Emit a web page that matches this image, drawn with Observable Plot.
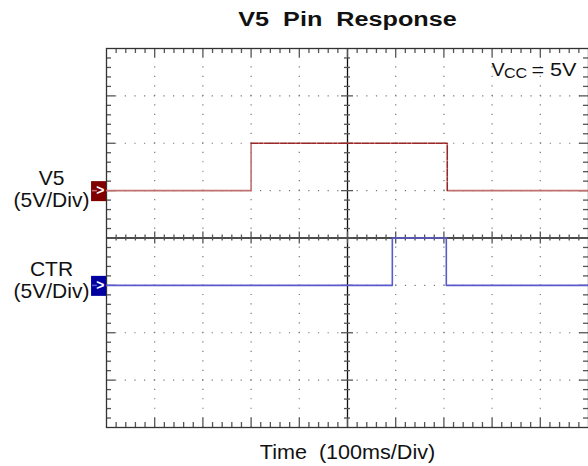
<!DOCTYPE html>
<html>
<head>
<meta charset="utf-8">
<script src="https://cdn.jsdelivr.net/npm/d3@7"></script>
<script src="https://cdn.jsdelivr.net/npm/@observablehq/plot@0.6"></script>
<style>
  html, body { margin: 0; padding: 0; background: #fff; }
  svg { display: block; }
</style>
</head>
<body>
<div id="chart"></div>
<script>
// ---- data (time in ms, 100 ms/div; amplitude in V, 5 V/div) ----
const titleText = "V5  Pin  Response";
const xLabel = "Time  (100ms/Div)";
const timeDomain = [0, 1000];
const voltDomain = [-20, 20];

const channelNames = ["V5", "CTR"];
const channelScales = ["(5V/Div)", "(5V/Div)"];
const channelOffsets = [5, -5];          // ground marker positions (V on screen)
const channelFills = ["#800000", "#0000a0"];
const channelStrokes = ["#c07070", "#5a5ad0"];

const v5Times = [0, 300, 707, 1000];
const v5Levels = [0, 5, 0, 0];
const ctrTimes = [0, 593, 705, 1000];
const ctrLevels = [0, 5, 0, 0];

const vccLabel = ["V", "CC", "= 5V"];

// ---- tables built from the arrays ----
const v5 = v5Times.map((t, i) => ({t, v: v5Levels[i] + channelOffsets[0]}));
const ctr = ctrTimes.map((t, i) => ({t, v: ctrLevels[i] + channelOffsets[1]}));
const channels = channelNames.map((n, i) => ({
  label: n + "\n" + channelScales[i], level: channelOffsets[i], fill: channelFills[i], stroke: channelStrokes[i]
}));

const xMajor = d3.range(100, 1000, 100).filter(d => d !== 500);
const yMajor = d3.range(-15, 20, 5).filter(d => d !== 0);
const xTicks = d3.range(20, 1000, 20);
const yTicks = d3.range(-19, 20, 1);
const isXMajor = d => d % 100 === 0;
const isYMajor = d => d % 5 === 0;

// pixel helpers for tick lengths (converted to data units)
const W = 588, H = 466, mL = 106, mR = 0, mT = 48, mB = 39;
const pxX = 1000 / (W - mL - mR);
const pxY = 40 / (H - mT - mB);

const tickColor = "#555";
const font = "Liberation Sans, Arial, Helvetica, sans-serif";

const chart = Plot.plot({
  width: W, height: H,
  marginLeft: mL, marginRight: mR, marginTop: mT, marginBottom: mB,
  x: {domain: timeDomain, axis: null},
  y: {domain: voltDomain, axis: null},
  style: {fontFamily: font, background: "#fff", overflow: "visible"},
  marks: [
    // dotted grid
    Plot.ruleX(xMajor, {stroke: "#777", strokeWidth: 1.2, strokeDasharray: `1.2 ${(9.48 - 1.2).toFixed(2)}`, strokeDashoffset: 0.6}),
    Plot.ruleY(yMajor, {stroke: "#777", strokeWidth: 1.2, strokeDasharray: `1.2 ${(9.66 - 1.2).toFixed(2)}`, strokeDashoffset: 0.6}),
    // center axes
    Plot.ruleY([0], {stroke: "#111", strokeWidth: 1.3}),
    Plot.ruleX([500], {stroke: "#111", strokeWidth: 1.3}),
    Plot.ruleX(xTicks, {x: d => d, y1: d => (isXMajor(d) ? -6 : -3) * pxY, y2: d => (isXMajor(d) ? 6 : 3) * pxY, stroke: tickColor, strokeWidth: 1.3}),
    Plot.ruleY(yTicks, {y: d => d, x1: d => 500 - (isYMajor(d) ? 6 : 3) * pxX, x2: d => 500 + (isYMajor(d) ? 6 : 3) * pxX, stroke: tickColor, strokeWidth: 1.3}),
    // border ticks
    Plot.ruleX(xTicks, {x: d => d, y1: 20, y2: d => 20 - (isXMajor(d) ? 9 : 5) * pxY, stroke: tickColor, strokeWidth: 1.3}),
    Plot.ruleX(xTicks, {x: d => d, y1: -20, y2: d => -20 + (isXMajor(d) ? 9 : 5) * pxY, stroke: tickColor, strokeWidth: 1.3}),
    Plot.ruleY(yTicks, {y: d => d, x1: 0, x2: d => (isYMajor(d) ? 9 : 5) * pxX, stroke: tickColor, strokeWidth: 1.3}),
    Plot.ruleY(yTicks, {y: d => d, x1: 1000, x2: d => 1000 - (isYMajor(d) ? 9 : 5) * pxX, stroke: tickColor, strokeWidth: 1.3}),
    Plot.frame({stroke: "#333", strokeWidth: 1.3}),
    // traces
    Plot.line(v5, {x: "t", y: "v", curve: "step-after", stroke: channelStrokes[0], strokeWidth: 1.6}),
    Plot.line(v5.slice(1, 3), {x: "t", y: "v", curve: "step-after", stroke: "#8b1010", strokeWidth: 1, strokeDasharray: "7 1.5 3 2 9 1 4 2 6 1.5"}),
    Plot.line(ctr, {x: "t", y: "v", curve: "step-after", stroke: channelStrokes[1], strokeWidth: 1.6}),
    // ground markers
    Plot.rect(channels, {x1: () => -31, x2: () => 0, y1: d => d.level - 11 * pxY, y2: d => d.level + 9 * pxY, fill: "fill"}),
    Plot.ruleY(channels, {y: "level", x1: () => -29, x2: () => -19, stroke: "stroke", strokeWidth: 1.6}),
    Plot.text(channels, {x: () => -13, y: "level", text: () => ">", fill: "white", fontSize: 14, fontWeight: "bold", dy: 0}),
    // channel labels
    Plot.text(channels.slice(0, 1), {y: "level", text: "label", frameAnchor: "left", textAnchor: "middle", lineAnchor: "middle", dx: -55, dy: -2, fontSize: 21, lineHeight: 1.05, fill: "#111"}),
    Plot.text(channels.slice(1), {y: "level", text: "label", frameAnchor: "left", textAnchor: "middle", lineAnchor: "middle", dx: -55, dy: -5, fontSize: 21, lineHeight: 1.05, fill: "#111"}),
    // title
    Plot.text([titleText], {frameAnchor: "top", lineAnchor: "middle", dy: -29, fontSize: 21, fontWeight: "bold", fill: "#111"}),
    // x label
    Plot.text([xLabel], {frameAnchor: "bottom", lineAnchor: "middle", dy: 25, fontSize: 20, fill: "#111"}),
    // Vcc annotation
    Plot.text([vccLabel[0]], {frameAnchor: "top-right", lineAnchor: "middle", dx: -97, dy: 21.5, textAnchor: "start", fontSize: 18, fill: "#111"}),
    Plot.text([vccLabel[1]], {frameAnchor: "top-right", lineAnchor: "middle", dx: -84.5, dy: 25, textAnchor: "start", fontSize: 14, fill: "#111"}),
    Plot.text([vccLabel[2]], {frameAnchor: "top-right", lineAnchor: "middle", dx: -57, dy: 21.5, textAnchor: "start", fontSize: 18, fill: "#111"})
  ]
});

// stretch some texts horizontally (the reference type is wide)
const stretch = {[titleText]: 1.2, [xLabel]: 1.08, [vccLabel[0]]: 1.1, [vccLabel[1]]: 1.15, [vccLabel[2]]: 1.2};
d3.select(chart).selectAll("text").each(function () {
  const s = stretch[this.textContent];
  if (s) {
    const t = this.getAttribute("transform") || "";
    this.setAttribute("transform", t + ` scale(${s},1)`);
  }
});
document.getElementById("chart").appendChild(chart);
</script>
</body>
</html>
